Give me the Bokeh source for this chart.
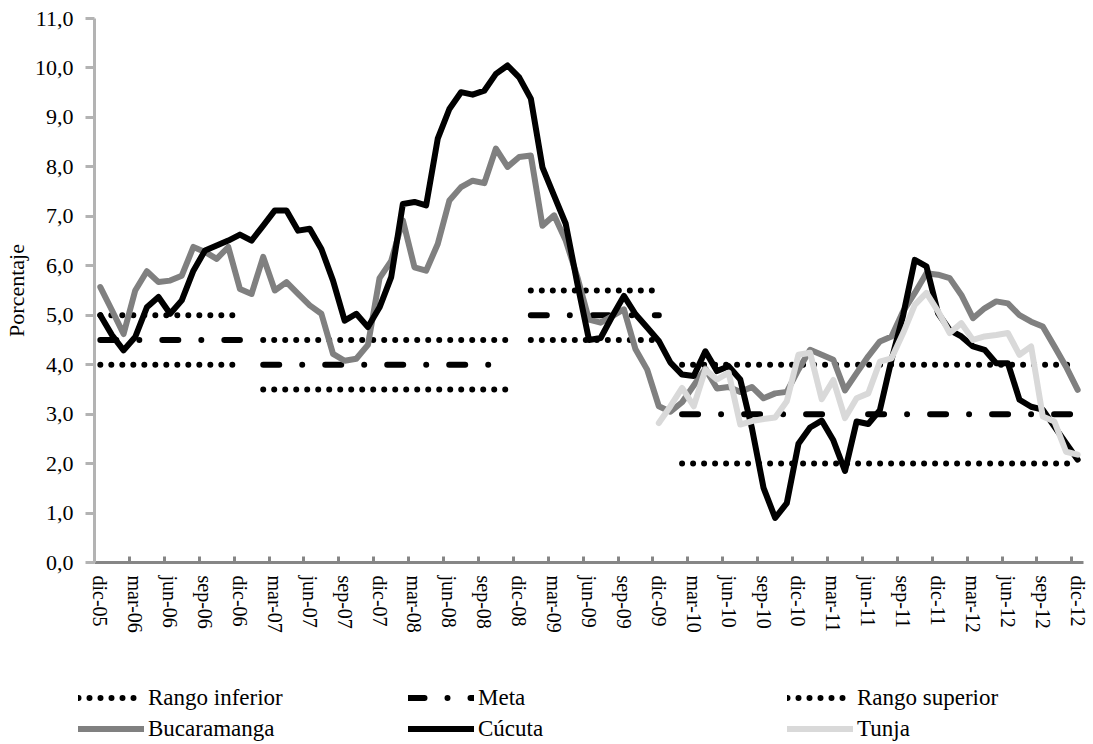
import numpy as np
from bokeh.plotting import figure
from bokeh.layouts import column, row
from bokeh.models import Range1d, FixedTicker, LinearAxis, Legend, LegendItem
from bokeh.embed import file_html
from bokeh.resources import INLINE

nan = float("nan")

# ---------------- data ----------------
meses_abbr = ["ene", "feb", "mar", "abr", "may", "jun", "jul", "ago", "sep", "oct", "nov", "dic"]
categorias = ["dic-05"] + [f"{m}-{y:02d}" for y in range(6, 13) for m in meses_abbr]  # 85 months

tick_labels = ["dic-05", "mar-06", "jun-06", "sep-06", "dic-06", "mar-07", "jun-07", "sep-07",
               "dic-07", "mar-08", "jun-08", "sep-08", "dic-08", "mar-09", "jun-09", "sep-09",
               "dic-09", "mar-10", "jun-10", "sep-10", "dic-10", "mar-11", "jun-11", "sep-11",
               "dic-11", "mar-12", "jun-12", "sep-12", "dic-12"]

rango_inferior = [4.0] * 13 + [nan] + [3.5] * 22 + [nan] + [4.5] * 12 + [nan] + [2.0] * 35
meta = [4.5] * 13 + [nan] + [4.0] * 22 + [nan] + [5.0] * 12 + [nan] + [3.0] * 35
rango_superior = [5.0] * 13 + [nan] + [4.5] * 22 + [nan] + [5.5] * 12 + [nan] + [4.0] * 35

bucaramanga = [5.57, 5.10, 4.62, 5.50, 5.89, 5.67, 5.70, 5.80, 6.38, 6.28, 6.14, 6.38, 5.53,
               5.43, 6.18, 5.50, 5.67, 5.43, 5.20, 5.03, 4.22, 4.08, 4.12, 4.40, 5.75,
               6.10, 6.92, 5.97, 5.90, 6.44, 7.32, 7.59, 7.72, 7.67, 8.37, 8.00, 8.20,
               8.23, 6.81, 7.02, 6.51, 5.77, 4.91, 4.85, 4.98, 5.12, 4.31, 3.90, 3.16,
               3.05, 3.24, 3.58, 3.92, 3.52, 3.55, 3.45, 3.55, 3.32, 3.42, 3.45, 3.90,
               4.30, 4.20, 4.10, 3.48, 3.83, 4.17, 4.47, 4.57, 5.08, 5.45, 5.85, 5.82,
               5.75, 5.41, 4.94, 5.14, 5.28, 5.24, 5.00, 4.87, 4.77, 4.37, 3.96, 3.49]

cucuta = [5.00, 4.60, 4.29, 4.56, 5.16, 5.37, 5.03, 5.30, 5.90, 6.31, 6.41, 6.51, 6.63,
          6.51, 6.81, 7.12, 7.12, 6.71, 6.75, 6.34, 5.70, 4.89, 5.03, 4.76, 5.16,
          5.77, 7.25, 7.29, 7.22, 8.57, 9.17, 9.51, 9.46, 9.54, 9.88, 10.05, 9.81,
          9.38, 7.99, 7.42, 6.85, 5.64, 4.50, 4.54, 4.98, 5.39, 5.02, 4.75, 4.48,
          4.04, 3.80, 3.77, 4.27, 3.87, 3.97, 3.70, 2.72, 1.51, 0.90, 1.20, 2.40,
          2.73, 2.87, 2.47, 1.85, 2.85, 2.80, 3.08, 4.10, 5.00, 6.12, 5.99, 5.04,
          4.70, 4.57, 4.37, 4.30, 4.03, 4.03, 3.29, 3.15, 3.09, 2.75, 2.41, 2.08]

tunja = [nan] * 48 + [2.82, 3.16, 3.53, 3.16, 3.90, 3.70, 3.84, 2.79, 2.86, 2.90, 2.93, 3.26,
                      4.20, 4.24, 3.30, 3.69, 2.92, 3.32, 3.42, 4.06, 4.13, 4.64, 5.21, 5.45,
                      5.08, 4.64, 4.84, 4.50, 4.57, 4.60, 4.64, 4.20, 4.37, 2.95, 2.85, 2.24, 2.18]

x = list(range(len(categorias)))

# ---------------- styles ----------------
SERIF = "Liberation Serif"
dots = dict(line_dash="0 11", line_cap="round", line_width=6, color="black")
dashdot = dict(line_dash="16 23 0 23", line_cap="round", line_width=6, color="black")
solid = dict(line_width=6, line_join="round", line_cap="round")
series_colors = {"Bucaramanga": "#808080", "Cúcuta": "black", "Tunja": "#d9d9d9"}


def add_series(fig):
    """Draw the six series on a figure and return their renderers."""
    return {
        "Rango inferior": fig.line(x, np.array(rango_inferior, dtype=float), **dots),
        "Meta": fig.line(x, np.array(meta, dtype=float), **dashdot),
        "Rango superior": fig.line(x, np.array(rango_superior, dtype=float), **dots),
        "Bucaramanga": fig.line(x, np.array(bucaramanga, dtype=float),
                                color=series_colors["Bucaramanga"], **solid),
        "Cúcuta": fig.line(x, np.array(cucuta, dtype=float),
                           color=series_colors["Cúcuta"], **solid),
        "Tunja": fig.line(x, np.array(tunja, dtype=float),
                          color=series_colors["Tunja"], **solid),
    }


# ---------------- main figure ----------------
p = figure(width=1093, height=640, output_backend="svg", toolbar_location=None,
           x_range=Range1d(-0.5, len(categorias) - 0.5), y_range=Range1d(0, 11),
           min_border_left=0, min_border_right=10, min_border_top=18, min_border_bottom=78)
p.grid.visible = False
p.outline_line_color = None
p.background_fill_color = "white"
p.border_fill_color = "white"
add_series(p)

# y axis
ya = p.yaxis[0]
ya.ticker = FixedTicker(ticks=list(range(12)))
ya.major_label_overrides = {i: f"{i},0" for i in range(12)}
ya.axis_line_color = "#b3b3b3"
ya.axis_line_width = 3
ya.major_tick_line_color = "#b3b3b3"
ya.major_tick_line_width = 3
ya.major_tick_out = 9
ya.major_tick_in = 0
ya.minor_tick_line_color = None
ya.major_label_standoff = 12
ya.major_label_text_font = SERIF
ya.major_label_text_font_size = "22px"
ya.major_label_text_color = "black"
ya.axis_label = "Porcentaje"
ya.axis_label_text_font = SERIF
ya.axis_label_text_font_size = "22px"
ya.axis_label_text_font_style = "normal"
ya.axis_label_text_color = "black"
ya.axis_label_standoff = 3

# x axis: tick marks between categories
xa = p.xaxis[0]
xa.ticker = FixedTicker(ticks=[k - 0.5 for k in range(3, len(categorias), 3)])
xa.major_label_text_font_size = "0px"
xa.major_label_text_color = None
xa.major_label_standoff = 0
xa.axis_line_color = "#868686"
xa.axis_line_width = 3
xa.major_tick_line_color = "#868686"
xa.major_tick_line_width = 3
xa.major_tick_in = 6
xa.major_tick_out = 0
xa.minor_tick_line_color = None

# x axis labels at category centres
label_pos = list(range(0, len(categorias), 3))
xa2 = LinearAxis(ticker=FixedTicker(ticks=label_pos),
                 major_label_overrides={pos: lab for pos, lab in zip(label_pos, tick_labels)},
                 major_label_orientation="vertical",
                 axis_line_color=None, major_tick_line_color=None, minor_tick_line_color=None,
                 major_label_standoff=7, major_label_text_font=SERIF,
                 major_label_text_font_size="20px", major_label_text_color="black")
p.add_layout(xa2, "below")

# ---------------- legend strip ----------------
# the series are drawn here too, but the ranges keep them out of view:
# only their legend swatches show.
lg = figure(width=1093, height=104, output_backend="svg", toolbar_location=None,
            x_range=Range1d(1000, 1001), y_range=Range1d(1000, 1001),
            x_axis_location=None, y_axis_location=None, min_border=0)
lg.grid.visible = False
lg.outline_line_color = None
lg.background_fill_color = "white"
lg.border_fill_color = "white"
keys = add_series(lg)

leg_style = dict(orientation="vertical", margin=0, padding=0, spacing=4,
                 glyph_width=66, glyph_height=27, label_height=27, label_standoff=4,
                 label_text_font=SERIF, label_text_font_size="23px", label_text_color="black",
                 border_line_color=None, background_fill_alpha=0)
columns = [
    (["Rango inferior", "Bucaramanga"], 78),
    (["Meta", "Cúcuta"], 408),
    (["Rango superior", "Tunja"], 787),
]
for names, vx in columns:
    leg = Legend(items=[LegendItem(label=n, renderers=[keys[n]]) for n in names],
                 location=(vx, 2), **leg_style)
    lg.add_layout(leg, "center")

layout = column(p, row(lg, spacing=0), spacing=0)
open("out.html", "w").write(file_html(layout, INLINE))
